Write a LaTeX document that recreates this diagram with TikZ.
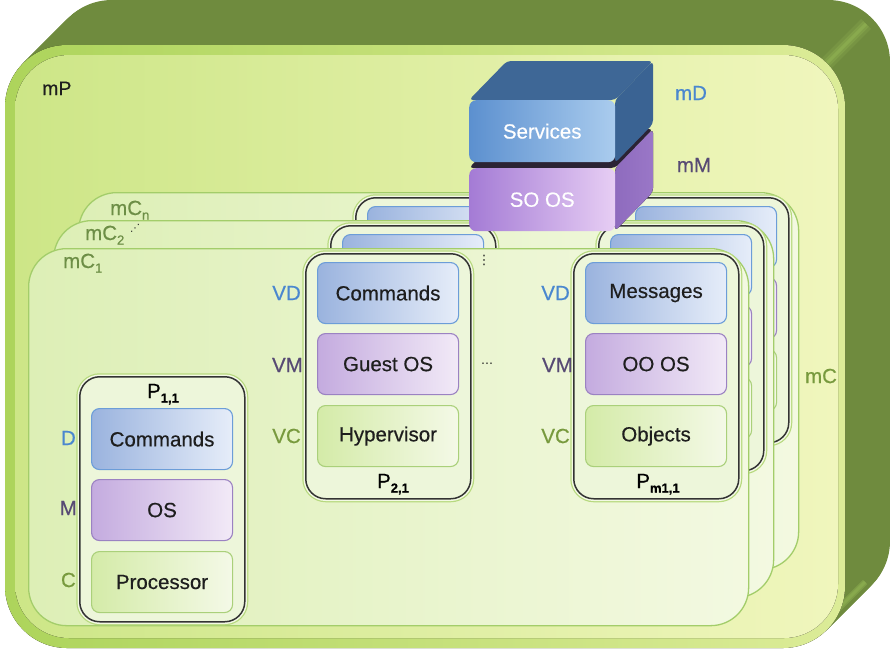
\documentclass[tikz,border=0pt]{standalone}
\usepackage{fontspec}
\setmainfont{Liberation Sans}
\newfontfamily\heavyfont{Liberation Sans}[FakeBold=0.45]
\newfontfamily\dotsfont{DejaVu Sans}
\newcommand\mainsz{\heavyfont\fontsize{20.5}{24}\selectfont}
\newcommand\psub[1]{\raisebox{-4.5pt}{\fontsize{13}{13}\selectfont\bfseries #1}}
\newcommand\csub[1]{\raisebox{-4.5pt}{\fontsize{13}{13}\selectfont #1}}

\definecolor{dkgreen}{HTML}{6F8B3E}
\definecolor{bevelLight}{HTML}{9CC15A}
\definecolor{faceL}{HTML}{ADD45B}
\definecolor{faceR}{HTML}{DCEC98}
\definecolor{innerL}{HTML}{CDE687}
\definecolor{innerR}{HTML}{F0F6BD}
\definecolor{cardL}{HTML}{DDEFB6}
\definecolor{cardR}{HTML}{F3F9E1}
\definecolor{cardEdge}{HTML}{A3CD6A}
\definecolor{frameC}{HTML}{333333}
\definecolor{colfill}{HTML}{EDF6DA}
\definecolor{haloG}{HTML}{B7D97E}
\definecolor{haloW}{HTML}{F3F9E4}
\definecolor{bluEdge}{HTML}{6C9DD8}
\definecolor{bluL}{HTML}{9AB3DE}
\definecolor{bluR}{HTML}{E6EDF9}
\definecolor{purEdge}{HTML}{9B82C2}
\definecolor{purL}{HTML}{C4ABDF}
\definecolor{purR}{HTML}{F2EAF7}
\definecolor{grnEdge}{HTML}{AAD07A}
\definecolor{grnL}{HTML}{D4EBA8}
\definecolor{grnR}{HTML}{F4F9E7}
\definecolor{txtdark}{HTML}{1E1E1E}
\definecolor{labBlue}{HTML}{4A87CF}
\definecolor{labPurple}{HTML}{574A74}
\definecolor{labGreen}{HTML}{789A3E}
\definecolor{labCard}{HTML}{6D8E46}
\definecolor{svcTop}{HTML}{3E6796}
\definecolor{svcSide}{HTML}{3A6393}
\definecolor{svcL}{HTML}{5C90CF}
\definecolor{svcR}{HTML}{AACCEE}
\definecolor{sosTop}{HTML}{2B2334}
\definecolor{sosSideL}{HTML}{8E6BBE}
\definecolor{sosSide}{HTML}{9A77C7}
\definecolor{sosL}{HTML}{A47BD5}
\definecolor{sosR}{HTML}{E7CEF4}

\tikzset{
  txt/.style={inner sep=0pt, font=\mainsz},
  inbox/.style={rounded corners=8pt, line width=1.1pt, minimum width=141pt,
    minimum height=61pt, anchor=north west, inner sep=0pt, font=\mainsz, text=txtdark},
  dbox/.style={inbox, draw=bluEdge, left color=bluL, right color=bluR},
  mbox/.style={inbox, draw=purEdge, left color=purL, right color=purR},
  cbox/.style={inbox, draw=grnEdge, left color=grnL, right color=grnR},
  colframe/.style={draw=frameC, line width=1.5pt, rounded corners=20pt, fill=colfill,
    minimum width=165pt, minimum height=245pt, anchor=north west, inner sep=0pt,
    preaction={draw=haloG, line width=7pt}, preaction={draw=haloW, line width=4.5pt}},
  card/.style={draw=cardEdge, line width=1.3pt, left color=cardL, right color=cardR,
    rounded corners=38pt, anchor=north west, minimum width=720pt, minimum height=377pt,
    inner sep=0pt},
  blockfront/.style={rounded corners=7pt, anchor=north west, minimum width=146pt,
    minimum height=62pt, inner sep=0pt, font=\mainsz, text=white},
  soft/.style={draw=bevelLight, line cap=butt},
}

\begin{document}
\begin{tikzpicture}[x=1pt,y=-1pt]
\useasboundingbox (0,0) rectangle (890,649);

% extruded platform: back layers
\foreach \k in {45,44,...,1}{
  \fill[dkgreen, rounded corners=62pt] (5+\k,45-\k) rectangle (845+\k,648-\k);
}
% soft bevel highlights on the right-hand corners of the solid
\draw[soft, line width=14pt, opacity=0.18] (826,64) -- (866,24);
\draw[soft, line width=8pt, opacity=0.25] (826,64) -- (866,24);
\draw[soft, line width=3pt, opacity=0.35] (826,64) -- (866,24);
\draw[soft, line width=6pt, opacity=0.35] (822,625) -- (865,582);
\draw[soft, line width=3pt, opacity=0.35] (822,625) -- (865,582);

% front face of the platform
\fill[left color=faceL, right color=faceR, rounded corners=62pt] (5,45) rectangle (845,648);
\fill[left color=innerL, right color=innerR, rounded corners=54pt] (15,55) rectangle (838,638);

\node[txt, anchor=base west, text=txtdark, font=\heavyfont\fontsize{19.5}{22}\selectfont] (lmP) at (42,95) {mP};

% ---- card mC_n with its processor columns
\node[card] (cardn) at (78,192) {};
\foreach \x/\nm in {355/a, 623/b}{
  \node[colframe] (pn\nm) at (\x,197) {};
  \node[dbox] (pn\nm d) at (\x+12,206) {};
  \node[mbox] (pn\nm m) at (\x+12,277) {};
  \node[cbox] (pn\nm c) at (\x+12,349) {};
}
% ---- card mC_2 with its processor columns
\node[card] (cardtwo) at (53,220) {};
\foreach \x/\nm in {330/a, 598/b}{
  \node[colframe] (pt\nm) at (\x,225) {};
  \node[dbox] (pt\nm d) at (\x+12,234) {};
  \node[mbox] (pt\nm m) at (\x+12,305) {};
  \node[cbox] (pt\nm c) at (\x+12,377) {};
}
% ---- card mC_1 (front)
\node[card] (cardone) at (28,248) {};

\node[txt, anchor=base west, text=labCard] (lmCn) at (110,215) {mC\csub{n}};
\node[txt, anchor=base west, text=labCard] (lmCt) at (85,240) {mC\csub{2}};
\node[inner sep=0pt, text=txtdark, font=\dotsfont\fontsize{10}{10}\selectfont] (dd) at (135,228) {⋰};
\node[txt, anchor=base west, text=labCard] (lmCo) at (63,268) {mC\csub{1}};

% processor P_{1,1}
\node[colframe] (p11) at (79,376) {};
\node[txt, anchor=base] (p11lab) at (163,398) {P\psub{1,1}};
\node[dbox] (p11d) at (91,408) {Commands};
\node[mbox] (p11m) at (91,479) {OS};
\node[cbox] (p11c) at (91,551) {Processor};
\node[txt, anchor=east, text=labBlue] (lD) at (76,438) {D};
\node[txt, anchor=east, text=labPurple] (lM) at (77,508) {M};
\node[txt, anchor=east, text=labGreen] (lC) at (76,580) {C};

% processor P_{2,1}
\node[colframe] (p21) at (305,253) {};
\node[dbox] (p21d) at (317,262) {Commands};
\node[mbox] (p21m) at (317,333) {Guest OS};
\node[cbox] (p21c) at (317,405) {Hypervisor};
\node[txt, anchor=base] (p21lab) at (393,488) {P\psub{2,1}};
\node[txt, anchor=east, text=labBlue] (lVDa) at (301,293) {VD};
\node[txt, anchor=east, text=labPurple] (lVMa) at (303,365) {VM};
\node[txt, anchor=east, text=labGreen] (lVCa) at (301,436) {VC};

% processor P_{m1,1}
\node[colframe] (pm1) at (573,253) {};
\node[dbox] (pm1d) at (585,262) {Messages};
\node[mbox] (pm1m) at (585,333) {OO OS};
\node[cbox] (pm1c) at (585,405) {Objects};
\node[txt, anchor=base] (pm1lab) at (658,488) {P\psub{m1,1}};
\node[txt, anchor=east, text=labBlue] (lVDb) at (570,293) {VD};
\node[txt, anchor=east, text=labPurple] (lVMb) at (573,365) {VM};
\node[txt, anchor=east, text=labGreen] (lVCb) at (570,436) {VC};

% ellipses between processors
\node[inner sep=0pt, text=txtdark, font=\dotsfont\fontsize{13}{13}\selectfont] (vdots) at (484,260) {⋮};
\node[inner sep=0pt, text=txtdark, font=\dotsfont\fontsize{12}{12}\selectfont] (hdots) at (487,365) {⋯};

% ---- stacked meta blocks
\fill[sosTop, rounded corners=4pt] (469,168) -- (507,129) -- (653,129) -- (615,168) -- cycle;
\fill[left color=sosSideL, right color=sosSide, rounded corners=4pt]
  (615,168) -- (653,129) -- (653,192) -- (615,231) -- cycle;
\node[blockfront, left color=sosL, right color=sosR, minimum height=63pt] (soos) at (469,168) {SO OS};

\fill[svcTop, rounded corners=4pt] (469,100) -- (507,61) -- (653,61) -- (615,100) -- cycle;
\fill[svcSide, rounded corners=4pt] (615,100) -- (653,61) -- (653,124) -- (615,163) -- cycle;
\node[blockfront, left color=svcL, right color=svcR] (serv) at (469,100) {Services};

\node[txt, text=labBlue] (lmD) at (691,93) {mD};
\node[txt, text=labPurple] (lmM) at (694,165) {mM};
\node[txt, text=labGreen] (lmC) at (821,376) {mC};
\end{tikzpicture}
\end{document}
